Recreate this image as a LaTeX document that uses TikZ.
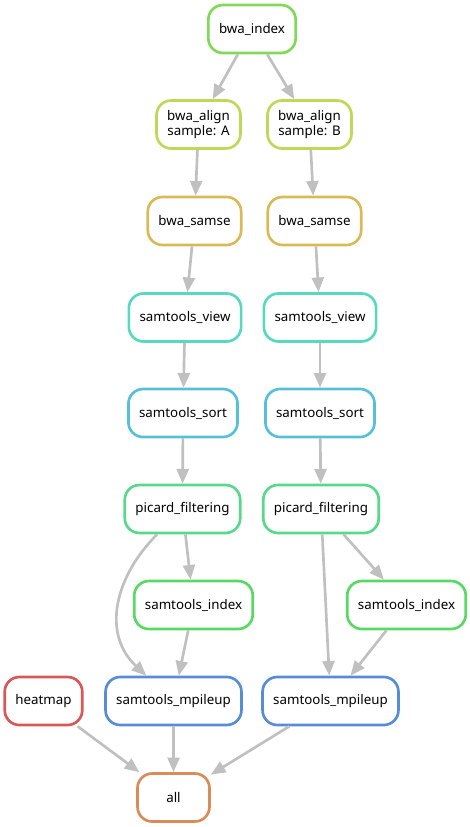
\documentclass[tikz,border=0pt]{standalone}
\usepackage{fontspec}
\setmainfont{Noto Sans}
\usetikzlibrary{arrows.meta}
\definecolor{cindex}{RGB}{128,217,87}
\definecolor{calign}{RGB}{190,217,87}
\definecolor{csamse}{RGB}{217,186,87}
\definecolor{cview}{RGB}{87,217,192}
\definecolor{csort}{RGB}{87,192,217}
\definecolor{cpicard}{RGB}{87,217,140}
\definecolor{cbamidx}{RGB}{87,217,100}
\definecolor{cheat}{RGB}{217,87,87}
\definecolor{cpileup}{RGB}{87,140,217}
\definecolor{call}{RGB}{217,140,87}
\definecolor{egrey}{RGB}{192,192,192}

\begin{document}
\begin{tikzpicture}[x=0.75pt,y=-0.75pt]
\tikzset{vertex/.style = {shape=rectangle,rounded corners=11pt,draw,line width=2pt,minimum width=54pt,minimum height=36pt,inner xsep=8pt,align=center,font=\fontsize{10}{11.5}\selectfont}}
\tikzset{edge/.style = {-{Triangle[length=11pt,width=9pt]},line width=2pt,draw=egrey}}
\useasboundingbox (0,0) rectangle (470,827);
\node[vertex,draw=cindex] (v_0_1) at (252,29) {bwa\_index};
\node[vertex,draw=calign] (v_1_1) at (198.5,124.5) {bwa\_align\\sample: A};
\node[vertex,draw=calign] (v_2_1) at (309.5,124.5) {bwa\_align\\sample: B};
\node[vertex,draw=csamse] (v_1_2) at (194.5,221) {bwa\_samse};
\node[vertex,draw=csamse] (v_2_2) at (314.5,221) {bwa\_samse};
\node[vertex,draw=cview] (v_1_3) at (185,317.5) {samtools\_view};
\node[vertex,draw=cview] (v_2_3) at (320,317.5) {samtools\_view};
\node[vertex,draw=csort] (v_1_4) at (183,413) {samtools\_sort};
\node[vertex,draw=csort] (v_2_4) at (320,413) {samtools\_sort};
\node[vertex,draw=cpicard] (v_1_5) at (182.5,509) {picard\_filtering};
\node[vertex,draw=cpicard] (v_2_5) at (321,509) {picard\_filtering};
\node[vertex,draw=cbamidx] (v_1_6) at (193.5,605) {samtools\_index};
\node[vertex,draw=cbamidx] (v_2_6) at (406.5,605) {samtools\_index};
\node[vertex,draw=cheat] (v_3_1) at (43.5,701) {heatmap};
\node[vertex,draw=cpileup] (v_1_7) at (173.5,701) {samtools\_mpileup};
\node[vertex,draw=cpileup] (v_2_7) at (330.5,701) {samtools\_mpileup};
\node[vertex,draw=call] (v_4_1) at (173.5,797.5) {all};
\draw[edge] (v_0_1) to (v_1_1);
\draw[edge] (v_0_1) to (v_2_1);
\draw[edge] (v_1_1) to (v_1_2);
\draw[edge] (v_2_1) to (v_2_2);
\draw[edge] (v_1_2) to (v_1_3);
\draw[edge] (v_2_2) to (v_2_3);
\draw[edge] (v_1_3) to (v_1_4);
\draw[edge] (v_2_3) to (v_2_4);
\draw[edge] (v_1_4) to (v_1_5);
\draw[edge] (v_2_4) to (v_2_5);
\draw[edge] (v_1_5) to (v_1_6);
\draw[edge] (v_2_5) to (v_2_6);
\draw[edge] (v_1_5) to[out=-135,in=137,looseness=1.1] (v_1_7);
\draw[edge] (v_2_5) to (v_2_7);
\draw[edge] (v_1_6) to (v_1_7);
\draw[edge] (v_2_6) to (v_2_7);
\draw[edge] (v_3_1) to (v_4_1);
\draw[edge] (v_1_7) to (v_4_1);
\draw[edge] (v_2_7) to (v_4_1);
\end{tikzpicture}
\end{document}
